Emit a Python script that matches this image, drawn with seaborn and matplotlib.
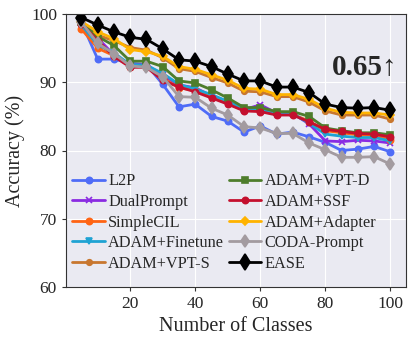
import pandas as pd
import seaborn as sns
import matplotlib.pyplot as plt

classes = list(range(5, 101, 5))

l2p = [98.8, 93.4, 93.4, 92.8, 92.6, 89.7, 86.4, 86.8, 85.0, 84.3, 82.7, 83.6, 82.4, 82.7, 82.0, 81.2, 80.0, 80.2, 80.6, 79.8]
dualprompt = [98.7, 96.5, 94.0, 92.6, 92.6, 91.0, 89.6, 89.2, 88.0, 87.2, 86.0, 86.7, 85.5, 85.4, 83.9, 81.4, 81.3, 81.5, 81.4, 81.1]
simplecil = [97.8, 95.0, 93.9, 92.3, 92.3, 90.6, 89.2, 88.8, 87.8, 86.9, 85.9, 85.8, 85.3, 85.3, 84.3, 82.9, 82.6, 82.3, 82.2, 81.6]
finetune = [98.4, 95.5, 94.3, 92.6, 92.5, 91.3, 89.7, 89.0, 88.2, 87.2, 86.0, 86.0, 85.4, 85.4, 84.0, 82.4, 82.1, 81.9, 81.9, 81.4]
vpt_s = [98.6, 96.9, 96.1, 95.1, 94.7, 93.6, 92.0, 91.6, 90.7, 89.9, 88.7, 88.6, 87.9, 87.9, 87.1, 85.8, 85.2, 85.2, 85.2, 84.6]
vpt_d = [98.8, 96.7, 95.4, 93.1, 93.1, 92.3, 90.2, 89.9, 88.9, 87.7, 86.3, 86.3, 85.7, 85.7, 85.0, 83.3, 82.9, 82.6, 82.6, 82.3]
ssf = [98.6, 96.1, 93.8, 92.2, 92.2, 90.3, 89.3, 88.6, 87.7, 86.8, 85.8, 85.7, 85.2, 85.2, 84.2, 83.1, 82.8, 82.5, 82.4, 82.0]
adapter = [98.9, 97.4, 96.4, 94.8, 94.5, 93.8, 92.3, 91.9, 91.1, 90.3, 89.1, 89.0, 88.2, 88.2, 87.5, 86.2, 85.6, 85.5, 85.5, 85.2]
coda = [98.8, 95.7, 94.2, 92.4, 92.2, 90.8, 87.9, 87.8, 86.2, 85.2, 83.5, 83.3, 82.5, 82.5, 81.1, 80.1, 79.0, 79.0, 79.1, 78.0]
ease = [99.5, 98.4, 97.4, 96.6, 96.3, 94.9, 93.3, 93.1, 92.3, 91.2, 90.2, 90.2, 89.3, 89.3, 88.5, 86.8, 86.3, 86.2, 86.3, 85.9]

methods = ['L2P', 'DualPrompt', 'SimpleCIL', 'ADAM+Finetune', 'ADAM+VPT-S',
           'ADAM+VPT-D', 'ADAM+SSF', 'ADAM+Adapter', 'CODA-Prompt', 'EASE']
series = [l2p, dualprompt, simplecil, finetune, vpt_s, vpt_d, ssf, adapter, coda, ease]

colors = ['#4F6CF7', '#8A2BE2', '#FF6414', '#1FA3D3', '#C8772F',
          '#4E7D2C', '#C4102E', '#FFB300', '#A39BA0', '#000000']
markers = ['o', 'x', 'o', 'v', 'o', 's', 'o', 'D', 'd', 'd']
msizes = [4.5, 5, 4.5, 5, 4, 5, 4.5, 4.5, 6, 8]

sns.set_style('darkgrid', {'axes.edgecolor': '#333333', 'xtick.bottom': True, 'ytick.left': True})
plt.rcParams['font.family'] = ['Liberation Serif', 'DejaVu Serif']

fig = plt.figure(figsize=(4.15, 3.44), dpi=100)
ax = fig.add_axes([0.159, 0.166, 0.819, 0.793])

for name, vals, c, mk, ms in zip(methods, series, colors, markers, msizes):
    sns.lineplot(x=classes, y=vals, label=name, color=c, marker=mk, markersize=ms,
                 markeredgecolor=c, markeredgewidth=1.2, linewidth=2, ax=ax)

ax.set_ylim(60, 100)
ax.set_yticks([60, 70, 80, 90, 100])
ax.set_xticks([20, 40, 60, 80, 100])
ax.tick_params(labelsize=12.5, length=3, width=0.8, color='#333333')
ax.set_xlabel('Number of Classes', fontsize=14.5)
ax.set_ylabel('Accuracy (%)', fontsize=14.5)

ax.legend(ncol=2, loc='lower left', bbox_to_anchor=(-0.01, 0.02), frameon=False,
          fontsize=11.7, handlelength=2, handletextpad=0.2, columnspacing=0.3,
          labelspacing=0.28, borderaxespad=0.2)

ax.text(0.975, 0.805, '0.65↑', transform=ax.transAxes, ha='right', va='center',
        fontsize=21, fontweight='bold')

fig.savefig('out.png', dpi=100)
